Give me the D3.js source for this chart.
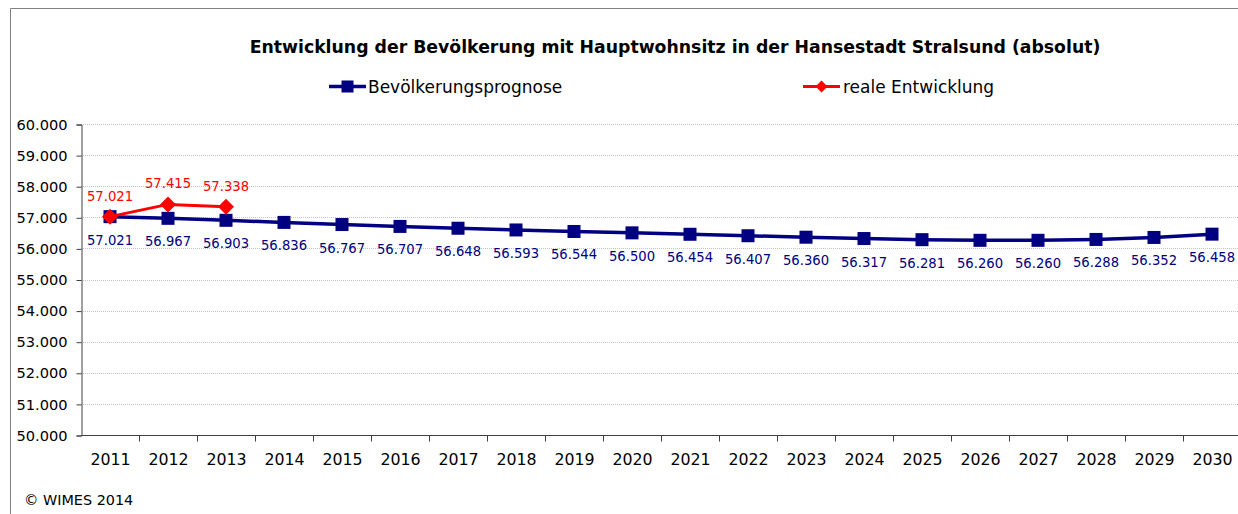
<!DOCTYPE html>
<html lang="de">
<head>
<meta charset="UTF-8" />
<title>Bevölkerung Stralsund</title>
<script src="https://cdn.jsdelivr.net/npm/d3@7"></script>
<style>
  body { margin: 0; background: #fff; }
  svg { display: block; font-family: "DejaVu Sans", Verdana, sans-serif; }
</style>
</head>
<body>
<div id="container"></div>
<script>
// data
const years = ['2011','2012','2013','2014','2015','2016','2017','2018','2019','2020',
               '2021','2022','2023','2024','2025','2026','2027','2028','2029','2030']
const prognose = [57021,56967,56903,56836,56767,56707,56648,56593,56544,56500,
                  56454,56407,56360,56317,56281,56260,56260,56288,56352,56458]
const realYears = ['2011','2012','2013']
const realValues = [57021,57415,57338]
const yTicks = [50000,51000,52000,53000,54000,55000,56000,57000,58000,59000,60000]

const width = 1238
const height = 514
const marginLeft = 81
const marginTop = 124
const marginBottom = 79

const fmt = v => d3.format(',')(v).replace(/,/g, '.')

const svg = d3.select('#container').append('svg')
  .attr('width', width)
  .attr('height', height)

// outer frame (cropped on right / bottom)
svg.append('path')
  .attr('d', `M10.5,${height} V8.5 H${width}`)
  .attr('fill', 'none')
  .attr('stroke', '#808080')

const x = d3.scaleBand()
  .domain(years)
  .range([marginLeft, marginLeft + 20 * 58])

const y = d3.scaleLinear()
  .domain([50000, 60000])
  .range([height - marginBottom, marginTop])

// grid
svg.append('g')
  .selectAll('line')
  .data(yTicks.slice(1))
  .join('line')
  .attr('x1', marginLeft)
  .attr('x2', width)
  .attr('y1', d => Math.round(y(d)) + 0.5)
  .attr('y2', d => Math.round(y(d)) + 0.5)
  .attr('stroke', '#c4c4c4')
  .attr('stroke-dasharray', '1,1')

// y axis
const yAxis = svg.append('g')
  .attr('transform', `translate(${marginLeft + 0.5},0.5)`)
  .call(d3.axisLeft(y).tickValues(yTicks).tickFormat(fmt).tickSizeOuter(0).tickSize(5).tickPadding(9))
yAxis.select('.domain').attr('stroke', '#404040')
yAxis.selectAll('.tick line').attr('stroke', '#404040')
yAxis.selectAll('text').attr('font-size', 14.6).attr('fill', '#000')
  .attr('font-family', '"DejaVu Sans", Verdana, sans-serif')

// x axis
const xAxis = svg.append('g')
  .attr('transform', `translate(0.5,${height - marginBottom + 0.5})`)
  .call(d3.axisBottom(x).tickSize(0).tickPadding(18))
xAxis.select('.domain').attr('stroke', '#404040').attr('d', `M${marginLeft},0H${width}`)
xAxis.selectAll('text').attr('font-size', 15.8).attr('fill', '#000')
  .attr('font-family', '"DejaVu Sans", Verdana, sans-serif')
xAxis.append('g')
  .selectAll('line')
  .data(years.slice(1))
  .join('line')
  .attr('x1', d => Math.round(x(d)))
  .attr('x2', d => Math.round(x(d)))
  .attr('y1', 0)
  .attr('y2', 6)
  .attr('stroke', '#404040')

const cx = d => x(d) + x.bandwidth() / 2
const navy = '#000080'
const red = '#ff0000'

// prognose line
svg.append('path')
  .datum(prognose)
  .attr('fill', 'none')
  .attr('stroke', navy)
  .attr('stroke-width', 3.5)
  .attr('d', d3.line().x((d, i) => cx(years[i])).y(d => y(d)))

svg.append('g')
  .selectAll('rect')
  .data(prognose)
  .join('rect')
  .attr('x', (d, i) => cx(years[i]) - 6.5)
  .attr('y', d => y(d) - 6.5)
  .attr('width', 13)
  .attr('height', 13)
  .attr('fill', navy)

svg.append('g')
  .selectAll('text')
  .data(prognose)
  .join('text')
  .attr('x', (d, i) => cx(years[i]))
  .attr('y', d => y(d) + 28)
  .attr('text-anchor', 'middle')
  .attr('font-size', 13.2)
  .attr('fill', navy)
  .text(fmt)

// real line
svg.append('path')
  .datum(realValues)
  .attr('fill', 'none')
  .attr('stroke', red)
  .attr('stroke-width', 3)
  .attr('d', d3.line().x((d, i) => cx(realYears[i])).y(d => y(d)))

svg.append('g')
  .selectAll('path')
  .data(realValues)
  .join('path')
  .attr('transform', (d, i) => `translate(${cx(realYears[i])},${y(d)})`)
  .attr('d', 'M0,-8L8,0L0,8L-8,0Z')
  .attr('fill', red)

svg.append('g')
  .selectAll('text')
  .data(realValues)
  .join('text')
  .attr('x', (d, i) => cx(realYears[i]))
  .attr('y', d => y(d) - 16)
  .attr('text-anchor', 'middle')
  .attr('font-size', 13.2)
  .attr('fill', red)
  .text(fmt)

// title
svg.append('text')
  .attr('x', 675)
  .attr('y', 53)
  .attr('text-anchor', 'middle')
  .attr('font-size', 17.3)
  .attr('font-weight', 'bold')
  .attr('fill', '#000')
  .text('Entwicklung der Bevölkerung mit Hauptwohnsitz in der Hansestadt Stralsund (absolut)')

// legend
const leg = svg.append('g')
leg.append('line').attr('x1', 329).attr('x2', 366).attr('y1', 86.5).attr('y2', 86.5)
  .attr('stroke', navy).attr('stroke-width', 3.5)
leg.append('rect').attr('x', 341.5).attr('y', 80.5).attr('width', 12).attr('height', 12).attr('fill', navy)
leg.append('text').attr('x', 368).attr('y', 93).attr('font-size', 17).attr('fill', '#000')
  .text('Bevölkerungsprognose')

leg.append('line').attr('x1', 803).attr('x2', 840).attr('y1', 86.5).attr('y2', 86.5)
  .attr('stroke', red).attr('stroke-width', 3)
leg.append('path').attr('transform', 'translate(821.5,86.5)').attr('d', 'M0,-6L6,0L0,6L-6,0Z').attr('fill', red)
leg.append('text').attr('x', 843).attr('y', 93).attr('font-size', 17).attr('fill', '#000')
  .text('reale Entwicklung')

// source
svg.append('text')
  .attr('x', 24)
  .attr('y', 505)
  .attr('font-size', 14.4)
  .attr('fill', '#000')
  .text('© WIMES 2014')
</script>
</body>
</html>
